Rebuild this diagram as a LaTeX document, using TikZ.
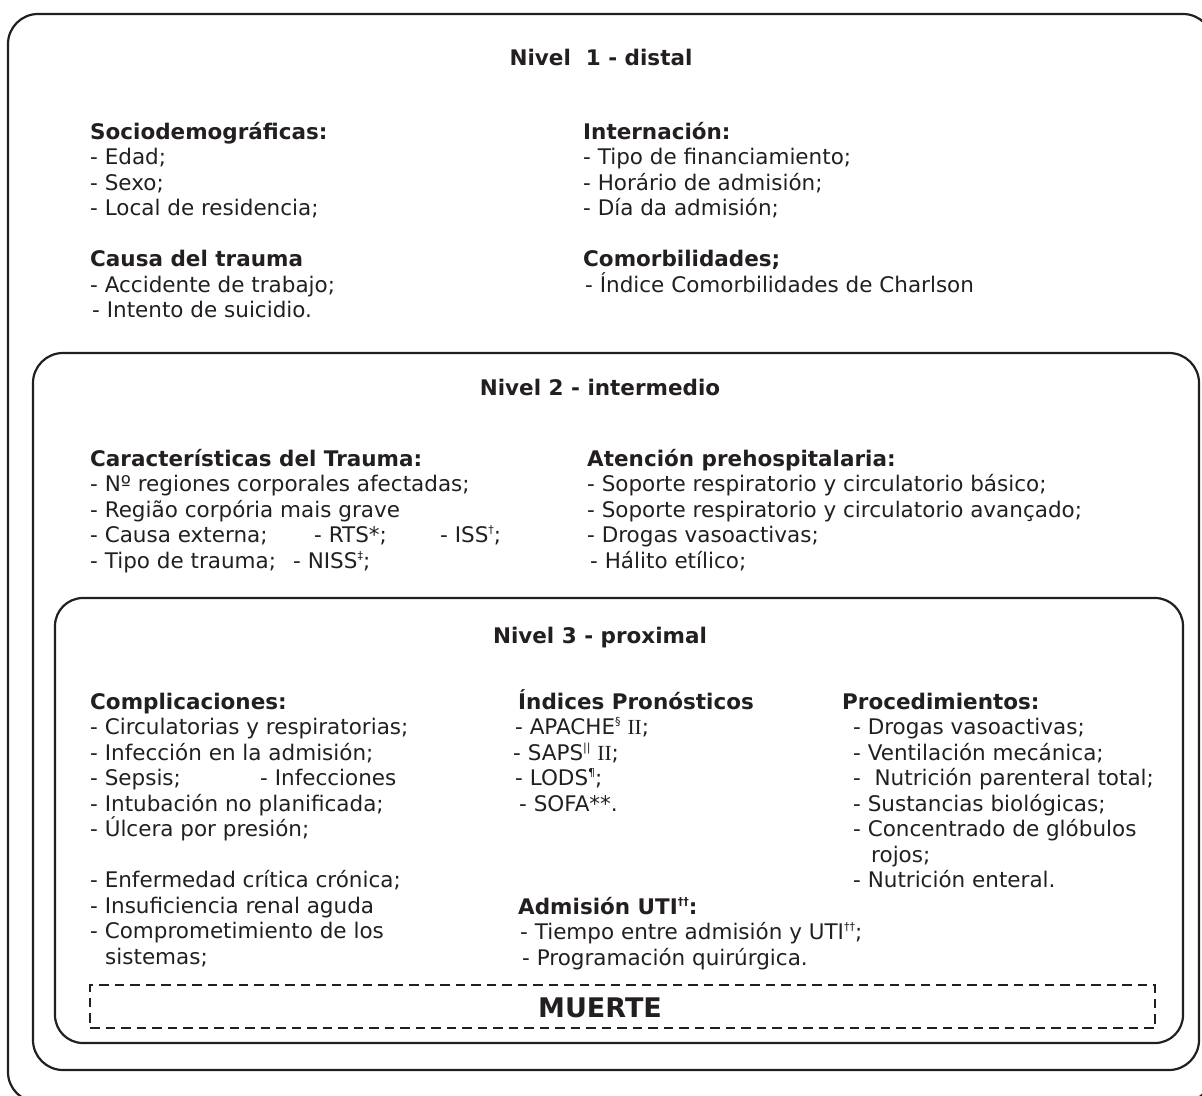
\documentclass[tikz,border=0pt]{standalone}
\usepackage{fontspec}
\setmainfont{DejaVu Sans}
\newfontfamily\romano{Liberation Serif}
\usetikzlibrary{positioning}
\definecolor{tinta}{HTML}{231F20}

\tikzset{
  caja/.style={draw=tinta, line width=2.2pt, rounded corners=#1},
  lista/.style={anchor=base west, inner sep=0pt, align=left, text=tinta,
    font=\fontsize{21.5}{25.5}\selectfont},
  titulo/.style={anchor=base, inner sep=0pt, text=tinta,
    font=\fontsize{21.5}{25.5}\selectfont\bfseries},
}
% llamadas de nota, pequenas y elevadas
\newcommand{\sob}[1]{\raisebox{0.75ex}{\fontsize{11}{11}\selectfont #1}}

\begin{document}
\begin{tikzpicture}[x=1pt,y=-1pt]
\useasboundingbox (0,0) rectangle (1202,1095);
\clip (0,0) rectangle (1202,1095);

% los tres niveles
\draw[caja=30pt] (8,14) rectangle (1213,1102);
\draw[caja=30pt] (33,353) rectangle (1199,1070);
\draw[caja=28pt] (55,598) rectangle (1183,1043);

% Nivel 1  (nodos anclados en la linea base de su ultima linea)
\node[titulo] (n1) at (601,65) {Nivel\ \ 1 - distal};

\node[lista] (socio) at (90,215.5) {\textbf{Sociodemográficas:}\\
- Edad;\\
- Sexo;\\
- Local de residencia;};

\node[lista] (causa) at (90,317.5) {\textbf{Causa del trauma}\\
- Accidente de trabajo;\\
\hspace*{2pt}- Intento de suicidio.};

\node[lista] (intern) at (583,215.5) {\textbf{Internación:}\\
- Tipo de financiamiento;\\
- Horário de admisión;\\
- Día da admisión;};

\node[lista] (comorb) at (583,292) {\textbf{Comorbilidades;}\\
\hspace*{2pt}- Índice Comorbilidades de Charlson};

% Nivel 2
\node[titulo] (n2) at (600,395) {Nivel 2 - intermedio};

\node[lista] (caract) at (90,568) {\textbf{Características del Trauma:}\\
- N\textordmasculine{} regiones corporales afectadas;\\
- Região corpória mais grave\\
\makebox[224pt][l]{- Causa externa;}\makebox[126pt][l]{- RTS*;}- ISS\sob{†};\\
\makebox[203pt][l]{- Tipo de trauma;}- NISS\sob{‡};};

\node[lista] (prehosp) at (587,568) {\textbf{Atención prehospitalaria:}\\
- Soporte respiratorio y circulatorio básico;\\
- Soporte respiratorio y circulatorio avançado;\\
- Drogas vasoactivas;\\
\hspace*{3pt}- Hálito etílico;};

% Nivel 3
\node[titulo] (n3) at (600,643) {Nivel 3 - proximal};

\node[lista] (compl) at (90,964) {\textbf{Complicaciones:}\\
- Circulatorias y respiratorias;\\
- Infección en la admisión;\\
\makebox[170pt][l]{- Sepsis;}- Infecciones\\
- Intubación no planificada;\\
- Úlcera por presión;\\[25.5pt]
- Enfermedad crítica crónica;\\
- Insuficiencia renal aguda\\
- Comprometimiento de los\\
\hspace*{15pt}sistemas;};

\node[lista] (indices) at (515,811) {\hspace*{3pt}\textbf{Índices Pronósticos}\\
- APACHE\sob{§} {\romano II};\\
\hspace*{-2pt}- SAPS\sob{||} {\romano II};\\
- LODS\sob{¶};\\
\hspace*{4pt}- SOFA**.};

\node[lista] (admis) at (518,965) {\textbf{Admisión UTI\sob{††}:}\\
\hspace*{2pt}- Tiempo entre admisión y UTI\sob{††};\\
\hspace*{4pt}- Programación quirúrgica.};

\node[lista] (proced) at (842,887.5) {\textbf{Procedimientos:}\\
\hspace*{11pt}- Drogas vasoactivas;\\
\hspace*{11pt}- Ventilación mecánica;\\
\hspace*{11pt}-\ \ Nutrición parenteral total;\\
\hspace*{11pt}- Sustancias biológicas;\\
\hspace*{11pt}- Concentrado de glóbulos\\
\hspace*{29pt}rojos;\\
\hspace*{11pt}- Nutrición enteral.};

% desenlace
\node[draw=tinta, line width=2.2pt, dash pattern=on 9.5pt off 6pt,
  minimum width=1065pt, minimum height=43pt, inner sep=0pt] (muerte) at (622.5,1006.5) {};
\node[titulo, font=\fontsize{27}{30}\selectfont\bfseries] (muertetxt) at (600,1017) {MUERTE};

\end{tikzpicture}
\end{document}
